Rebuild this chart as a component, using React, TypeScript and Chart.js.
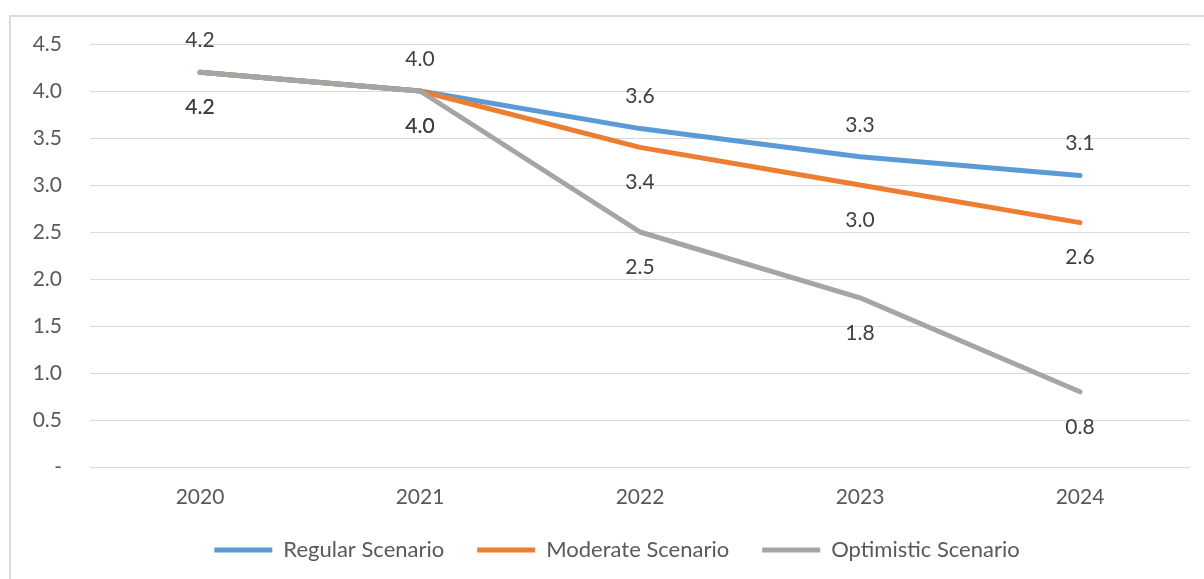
import React, { useEffect, useRef } from "react";
import { Chart, registerables } from "chart.js";

Chart.register(...registerables);

const categories = ["2020", "2021", "2022", "2023", "2024"];
const regular = [4.2, 4.0, 3.6, 3.3, 3.1];
const moderate = [4.2, 4.0, 3.4, 3.0, 2.6];
const optimistic = [4.2, 4.0, 2.5, 1.8, 0.8];
const seriesNames = ["Regular Scenario", "Moderate Scenario", "Optimistic Scenario"];
const seriesColors = ["#5B9BD5", "#ED7D31", "#A5A5A5"];
const labelOffsets = [-32, 35, 35];

const FONT = "Lato";

const dataLabels = {
  id: "dataLabels",
  afterDatasetsDraw(chart: any) {
    const ctx = chart.ctx;
    ctx.save();
    ctx.font = `21px ${FONT}`;
    ctx.fillStyle = "#404040";
    ctx.textAlign = "center";
    ctx.textBaseline = "middle";
    chart.data.datasets.forEach((ds: any, di: number) => {
      const meta = chart.getDatasetMeta(di);
      meta.data.forEach((pt: any, i: number) => {
        ctx.fillText(Number(ds.data[i]).toFixed(1), pt.x, pt.y + labelOffsets[di]);
      });
    });
    ctx.restore();
  },
};

const legendShift = {
  id: "legendShift",
  afterLayout(chart: any) {
    const lg = chart.legend;
    if (lg) {
      lg.left += 22;
      lg.right += 22;
    }
  },
};

export default function App() {
  const ref = useRef<HTMLCanvasElement>(null);
  useEffect(() => {
    if (!ref.current) return;
    const all = [regular, moderate, optimistic];
    const chart = new Chart(ref.current, {
      type: "line",
      data: {
        labels: categories,
        datasets: all.map((d, i) => ({
          label: seriesNames[i],
          data: d,
          borderColor: seriesColors[i],
          backgroundColor: seriesColors[i],
          borderWidth: 5,
          borderCapStyle: "round",
          borderJoinStyle: "round",
          pointRadius: 0,
          pointStyle: "line",
          tension: 0,
          order: 2 - i,
        })),
      },
      options: {
        animation: false,
        responsive: false,
        layout: { padding: { left: 0, right: 14, top: 44, bottom: 8 } },
        plugins: {
          tooltip: { enabled: false },
          legend: {
            position: "bottom",
            labels: {
              sort: (a: any, b: any) => a.datasetIndex - b.datasetIndex,
              usePointStyle: true,
              pointStyle: "line",
              pointStyleWidth: 58,
              boxHeight: 5,
              padding: 33,
              color: "#595959",
              font: { family: FONT, size: 22 },
            },
          },
        },
        scales: {
          x: {
            offset: true,
            grid: { display: false, drawTicks: false },
            border: { display: false },
            ticks: { color: "#595959", font: { family: FONT, size: 21 }, padding: 18 },
            afterFit: (s: any) => { s.height = 39; },
          },
          y: {
            min: 0,
            max: 4.5,
            grid: { color: "#d9d9d9", lineWidth: 1, drawTicks: false },
            border: { display: false },
            ticks: {
              stepSize: 0.5,
              color: "#595959",
              font: { family: FONT, size: 21 },
              padding: 28,
              callback: (v: any) => (Number(v) === 0 ? "-" : Number(v).toFixed(1)),
            },
            afterFit: (s: any) => { s.width = 90; },
          },
        },
      } as any,
      plugins: [dataLabels, legendShift],
    });
    return () => chart.destroy();
  }, []);
  return (
    <div style={{ position: "absolute", left: 0, top: 0, width: 1204, height: 579, background: "#fff", overflow: "hidden" }}>
      <div style={{ position: "absolute", left: 9, top: 15, width: 1220, height: 600, borderLeft: "2px solid #dcdcdc", borderTop: "2px solid #dcdcdc" }} />
      <canvas ref={ref} width={1204} height={579} style={{ position: "absolute", left: 0, top: 0, width: 1204, height: 579 }} />
    </div>
  );
}
